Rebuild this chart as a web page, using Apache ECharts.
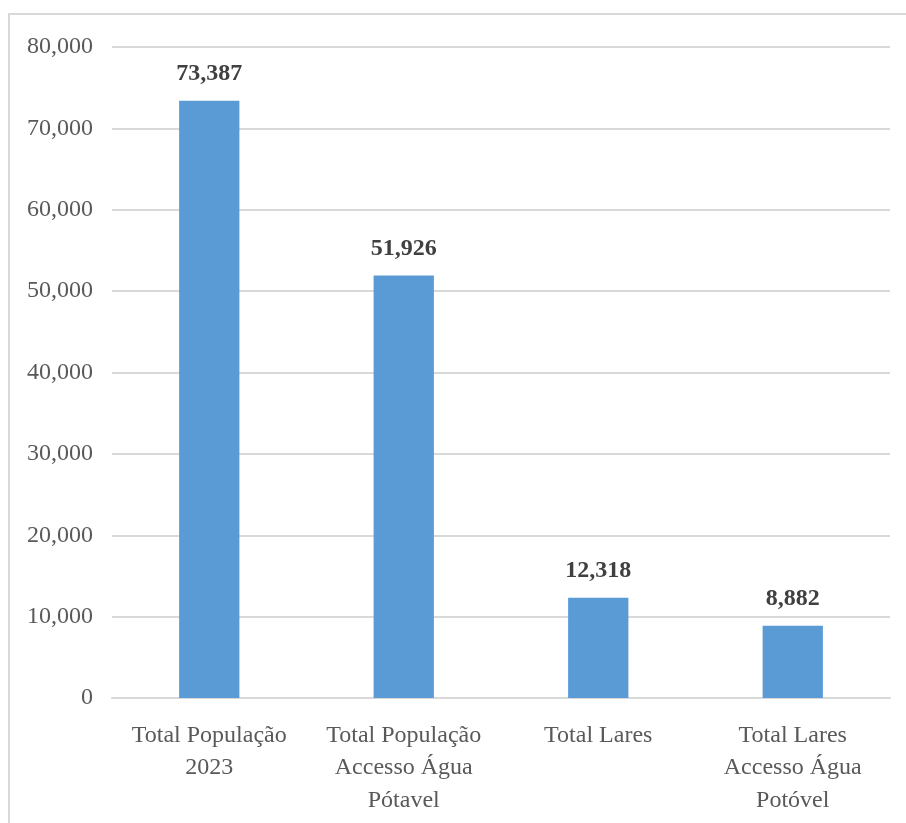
<!DOCTYPE html>
<html><head><meta charset="utf-8">
<script src="https://cdn.jsdelivr.net/npm/echarts@6/dist/echarts.min.js"></script>
<style>html,body{margin:0;padding:0;background:#fff}#c{width:906px;height:823px}</style>
</head><body><div id="c"></div>
<script>
const categories = ['Total População\n2023', 'Total População\nAccesso Água\nPótavel', 'Total Lares', 'Total Lares\nAccesso Água\nPotóvel'];
const values = [73387, 51926, 12318, 8882];
const yMin = 0, yMax = 80000, yInterval = 10000;

const chart = echarts.init(document.getElementById('c'));
const serif = '"Liberation Serif", "Times New Roman", serif';
chart.setOption({
  animation: false,
  graphic: [{type: 'rect', shape: {x: 9, y: 14, width: 1000, height: 1000}, style: {fill: 'none', stroke: '#d9d9d9', lineWidth: 2}, silent: true}],
  grid: {left: 112, right: 16, top: 47, bottom: 125},
  xAxis: {
    type: 'category', data: categories,
    axisLine: {lineStyle: {color: '#d9d9d9', width: 2}},
    axisTick: {show: false},
    axisLabel: {fontFamily: serif, fontSize: 24, color: '#595959', lineHeight: 32.5, margin: 21, interval: 0}
  },
  yAxis: {
    type: 'value', min: yMin, max: yMax, interval: yInterval,
    axisLine: {show: false}, axisTick: {show: false},
    splitLine: {lineStyle: {color: '#d9d9d9', width: 2}},
    axisLabel: {fontFamily: serif, fontSize: 24, color: '#595959', margin: 19,
      formatter: v => v.toLocaleString('en-US')}
  },
  series: [{
    type: 'bar', data: values, barWidth: '31%',
    itemStyle: {color: '#5b9bd5'},
    label: {show: true, position: 'top', distance: 15, fontFamily: serif, fontSize: 24, fontWeight: 'bold', color: '#404040',
      formatter: p => p.value.toLocaleString('en-US')}
  }]
});
</script></body></html>
